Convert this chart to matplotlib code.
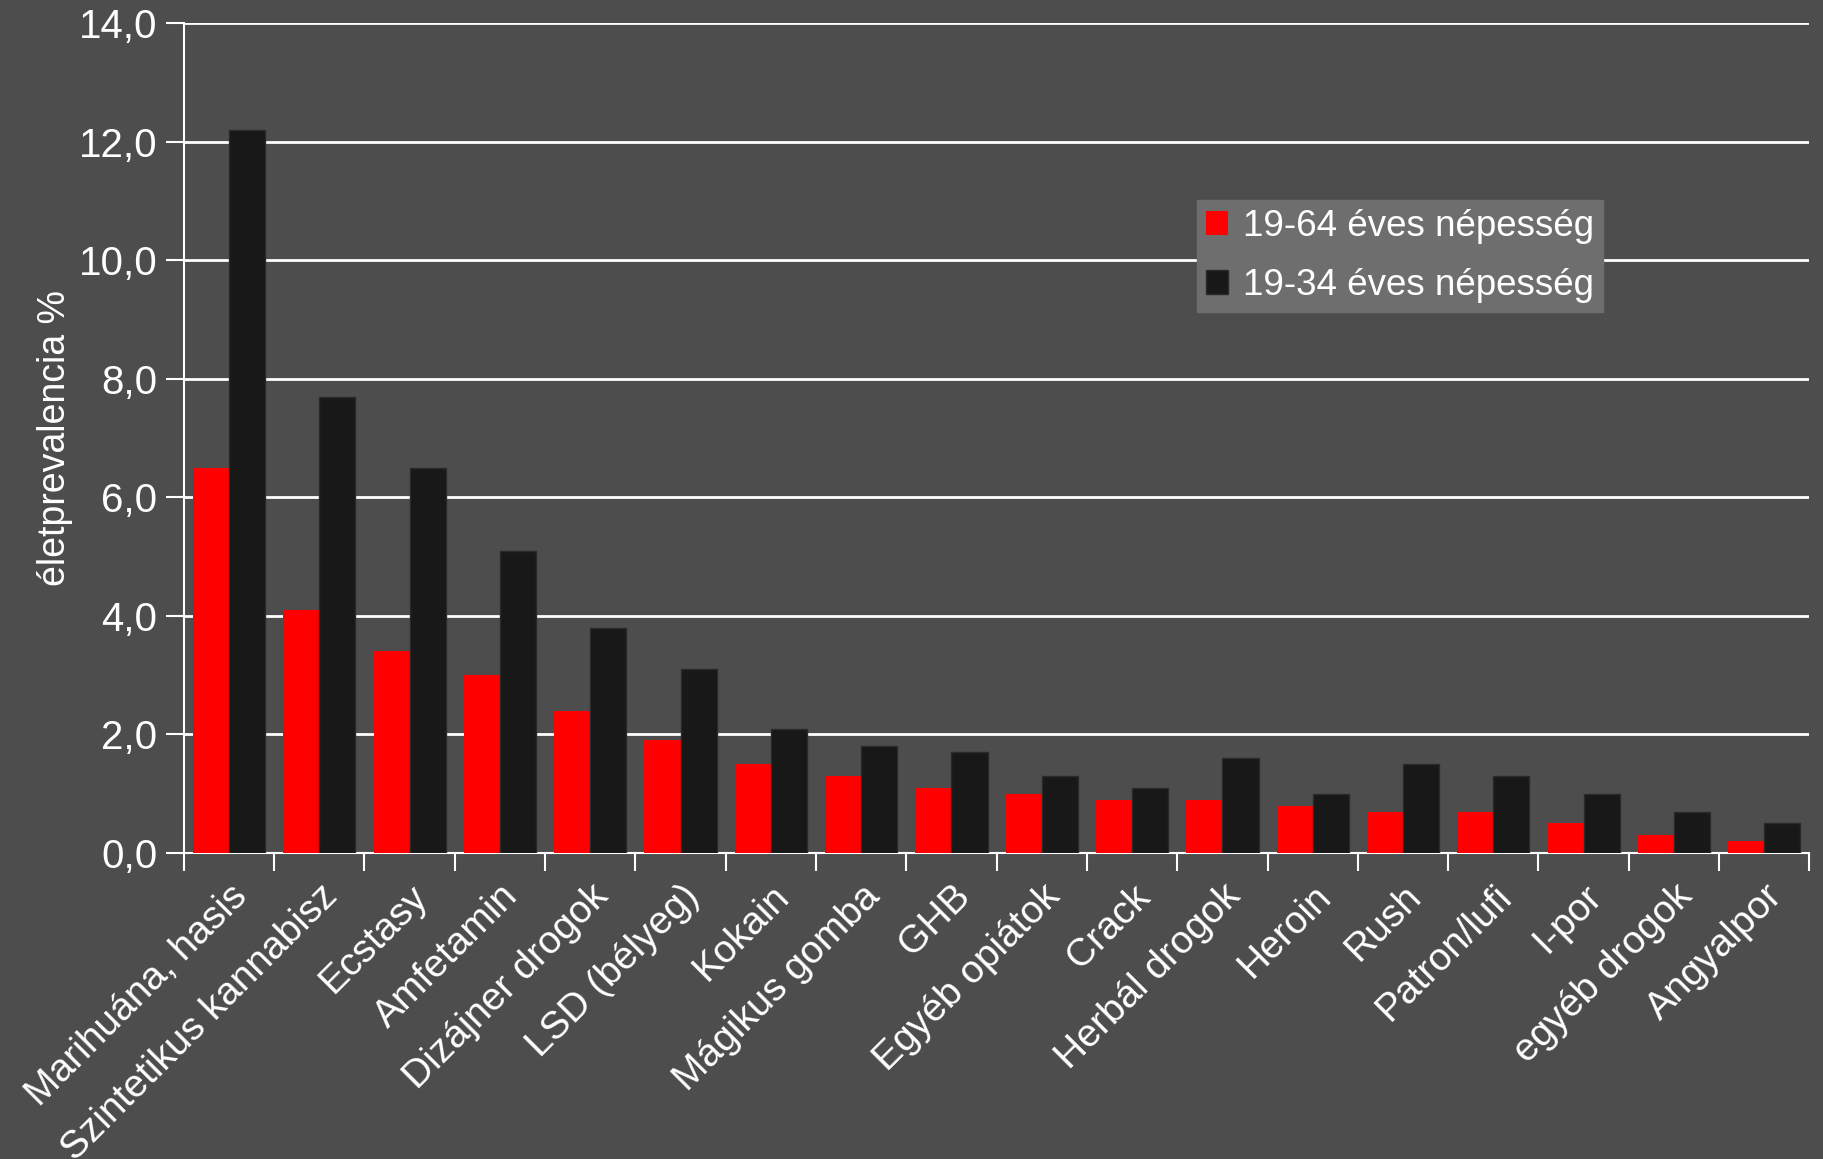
import numpy as np
import matplotlib.pyplot as plt
from matplotlib.ticker import FuncFormatter

plt.rcParams['font.family'] = ['Liberation Sans', 'DejaVu Sans']

categories = ['Marihuána, hasis', 'Szintetikus kannabisz', 'Ecstasy', 'Amfetamin',
              'Dizájner drogok', 'LSD (bélyeg)', 'Kokain', 'Mágikus gomba', 'GHB',
              'Egyéb opiátok', 'Crack', 'Herbál drogok', 'Heroin', 'Rush',
              'Patron/lufi', 'I-por', 'egyéb drogok', 'Angyalpor']
pop_19_64 = [6.5, 4.1, 3.4, 3.0, 2.4, 1.9, 1.5, 1.3, 1.1, 1.0, 0.9, 0.9, 0.8, 0.7, 0.7, 0.5, 0.3, 0.2]
pop_19_34 = [12.2, 7.7, 6.5, 5.1, 3.8, 3.1, 2.1, 1.8, 1.7, 1.3, 1.1, 1.6, 1.0, 1.5, 1.3, 1.0, 0.7, 0.5]
series_labels = ['19-64 éves népesség', '19-34 éves népesség']
y_ticks = [0, 2, 4, 6, 8, 10, 12, 14]

bg = '#4d4d4d'
fig = plt.figure(figsize=(18.24, 11.59), dpi=100, facecolor=bg)
ax = fig.add_axes([0.1008, 0.264, 0.8912, 0.716])
ax.set_facecolor(bg)

x = np.arange(len(categories))
w = 0.4
ax.bar(x - w / 2, pop_19_64, w, color='#ff0000', label=series_labels[0], zorder=3)
ax.bar(x + w / 2, pop_19_34, w, color='#181818', edgecolor='#2a2a2a', linewidth=1,
       label=series_labels[1], zorder=3)

ax.set_xlim(-0.5, len(categories) - 0.5)
ax.set_ylim(0, 14)
ax.set_yticks(y_ticks)
ax.yaxis.set_major_formatter(FuncFormatter(lambda v, p: f'{v:.1f}'.replace('.', ',')))
ax.grid(axis='y', color='white', linewidth=2, zorder=0)

# group boundary ticks, labels on group centres
ax.set_xticks(np.arange(len(categories) + 1) - 0.5)
ax.set_xticklabels([])
ax.set_xticks(x, minor=True)
ax.set_xticklabels(categories, minor=True, rotation=45, ha='right', va='top',
                   rotation_mode='anchor', fontsize=28, color='white')
ax.tick_params(axis='x', which='minor', length=0, pad=18)
ax.tick_params(axis='x', which='major', length=13, width=1.5, color='white')
ax.tick_params(axis='y', length=13, width=1.5, color='white', labelsize=29,
               labelcolor='white', pad=6)

for s in ['top', 'right']:
    ax.spines[s].set_visible(False)
for s in ['left', 'bottom']:
    ax.spines[s].set_color('white')
    ax.spines[s].set_linewidth(1.5)

ax.set_ylabel('életprevalencia %', fontsize=27, color='white', labelpad=4)

leg = ax.legend(loc='upper left', bbox_to_anchor=(0.623, 0.787), fontsize=26.5,
                frameon=True, facecolor='#6e6e6e', edgecolor='#6e6e6e', framealpha=1,
                fancybox=False, handlelength=0.6, handleheight=0.6, borderaxespad=0,
                handletextpad=0.4, borderpad=0.25, labelspacing=0.65)
for t in leg.get_texts():
    t.set_color('white')

fig.savefig('out.png', dpi=100, facecolor=bg)
